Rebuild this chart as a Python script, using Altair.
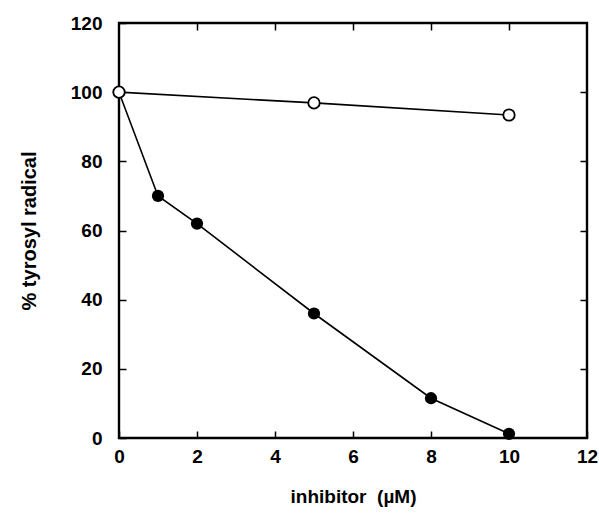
import altair as alt
import pandas as pd

# Inhibitor concentration (µM) and remaining tyrosyl radical (%)
open_x = [0, 5, 10]
open_y = [100, 96.9, 93.4]
filled_x = [0, 1, 2, 5, 8, 10]
filled_y = [100, 70, 62, 36, 11.5, 1.2]

x_ticks = [0, 2, 4, 6, 8, 10, 12]
y_ticks = [0, 20, 40, 60, 80, 100, 120]

df = pd.concat([
    pd.DataFrame({"x": filled_x, "y": filled_y, "series": "inhibitor"}),
    pd.DataFrame({"x": open_x, "y": open_y, "series": "control"}),
], ignore_index=True)

FONT = "Liberation Sans"
TICK = 7

xscale = alt.Scale(domain=[0, 12], nice=False, zero=False)
yscale = alt.Scale(domain=[0, 120], nice=False, zero=False)

x_bottom = alt.X(
    "x:Q", scale=xscale,
    axis=alt.Axis(values=x_ticks, orient="bottom", offset=-TICK, tickSize=TICK,
                  tickWidth=1.5, tickColor="black", domain=False, grid=False,
                  labelFont=FONT, labelFontSize=19, labelFontWeight="bold",
                  labelColor="black", labelPadding=9, labelFlush=False,
                  title="inhibitor\u00a0\u00a0(µM)", titleFont=FONT, titleFontSize=19,
                  titleFontWeight="bold", titleColor="black", titlePadding=21),
)
y_left = alt.Y(
    "y:Q", scale=yscale,
    axis=alt.Axis(values=y_ticks, orient="left", offset=-TICK, tickSize=TICK,
                  tickWidth=1.5, tickColor="black", domain=False, grid=False,
                  labelFont=FONT, labelFontSize=19, labelFontWeight="bold",
                  labelColor="black", labelPadding=17, labelFlush=False,
                  title="% tyrosyl radical", titleFont=FONT, titleFontSize=20,
                  titleFontWeight="bold", titleColor="black", titlePadding=31),
)

lines = alt.Chart(df).mark_line(color="black", strokeWidth=1.6).encode(
    x=x_bottom, y=y_left, detail="series:N"
)

filled_pts = alt.Chart(df).transform_filter(
    alt.datum.series == "inhibitor"
).mark_point(shape="circle", filled=True, color="black", size=150, opacity=1).encode(
    x=alt.X("x:Q", scale=xscale, axis=None), y=alt.Y("y:Q", scale=yscale, axis=None)
)

open_pts = alt.Chart(df).transform_filter(
    alt.datum.series == "control"
).mark_point(shape="circle", filled=True, fill="white", stroke="black",
             strokeWidth=1.8, size=130, opacity=1).encode(
    x=alt.X("x:Q", scale=xscale, axis=None), y=alt.Y("y:Q", scale=yscale, axis=None)
)

# Mirrored tick marks on the top and right edges of the frame
frame_ticks = alt.Chart(df).mark_point(opacity=0).encode(
    x=alt.X("x:Q", scale=xscale,
            axis=alt.Axis(values=[2, 4, 6, 8, 10], orient="top", offset=-TICK,
                          tickSize=TICK, tickWidth=1.5, tickColor="black",
                          domain=False, grid=False, labels=False, title=None)),
    y=alt.Y("y:Q", scale=yscale,
            axis=alt.Axis(values=[20, 40, 60, 80, 100], orient="right", offset=-TICK,
                          tickSize=TICK, tickWidth=1.5, tickColor="black",
                          domain=False, grid=False, labels=False, title=None)),
)

chart = alt.layer(lines, filled_pts, open_pts, frame_ticks).resolve_axis(
    x="independent", y="independent"
).properties(
    width=468, height=415,
    autosize=alt.AutoSizeParams(type="none"),
    padding={"left": 119, "top": 23, "right": 12, "bottom": 79},
    background="white",
).configure_view(stroke="black", strokeWidth=2.4)

chart.save("out.html", embed_options={"renderer": "svg", "actions": False})
